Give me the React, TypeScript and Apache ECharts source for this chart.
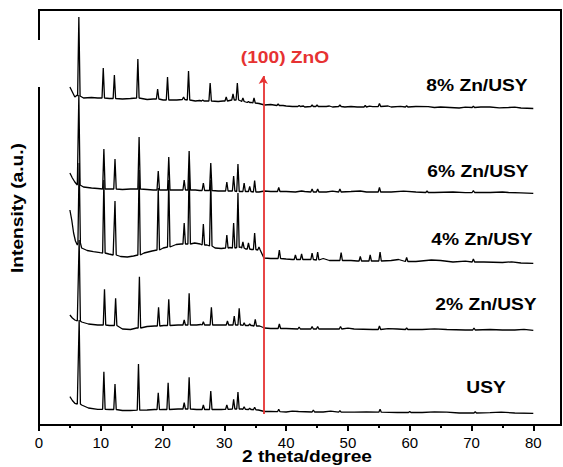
import React, { useEffect, useRef } from "react";
import * as echarts from "echarts";

// x axis tick labels (2 theta, degree)
const xTicks = [0, 10, 20, 30, 40, 50, 60, 70, 80];
const traceNames = ["8% Zn/USY", "6% Zn/USY", "4% Zn/USY", "2% Zn/USY", "USY"];

// Each trace: baseline points [2theta, intensity] and peaks [2theta, top, foot]
const base8 = [[5.0,338],[5.4,333],[5.8,328],[6.2,330],[7.2,327],[8.5,327.5],[9.5,327],[11.4,326.5],[13.5,326],[14.8,326.5],[17.5,325.5],[18.5,326],[20.1,325],[22.3,325],[25.3,324],[26.0,324.5],[29.0,323.5],[29.8,324],[32.7,324],[34.4,322.5],[35.6,321.5],[36.5,320],[37.5,320.5],[39.5,319.5],[40.0,319],[41.0,318.5],[42.8,319],[43.0,318],[46.5,318.5],[47.0,319],[47.5,318],[49.5,318],[50.5,318.5],[51.5,318],[53.5,318.8],[54.0,318.3],[56.5,319],[57.0,318],[58.5,318.7],[61.0,318.5],[63.0,318.3],[64.0,317.5],[65.0,318],[66.5,317.5],[68.0,317],[69.0,317.8],[71.5,318],[73.0,318],[74.5,317.2],[76.0,317.5],[77.0,317.8],[78.0,317],[80.0,316.5]];
const peaks8 = [[6.45,408,329],[10.4,357,327],[12.2,350,326.5],[16.0,366,327],[19.2,336,326],[20.8,348,325],[23.4,328,325.5],[24.2,354,325],[26.5,325,324],[27.7,342,324],[30.3,328,324],[31.4,331,325],[32.1,342,325],[33.0,327,323.5],[33.9,323.5,322.5],[34.8,327,322],[38.7,321,319.5],[42.1,319.5,318.5],[44.2,320,318.5],[45.0,320,318.5],[48.7,320,318.5],[52.8,319.5,318],[55.1,321.5,318.5],[59.5,319.2,318],[70.3,318.8,317.5]];

const base6 = [[5.0,252],[5.4,247],[5.8,243],[6.2,240],[7.2,238],[8.5,237],[9.5,236.5],[11.4,236],[13.5,235.5],[14.8,236],[17.5,235.5],[18.5,235],[20.1,235],[22.3,235],[25.3,235],[26.0,234.5],[29.0,234],[29.8,234],[32.7,233.5],[34.4,233.5],[35.6,233],[36.5,234],[37.5,233.5],[40.0,233.5],[41.5,233],[42.5,234],[43.0,233.5],[46.5,233],[47.5,233.8],[50.5,233.5],[52.0,234],[53.0,233],[57.0,233],[59.0,233.8],[61.0,233],[64.0,232.5],[67.0,233],[69.0,232.4],[73.0,232.5],[75.0,233],[76.0,232.5],[78.0,232.2],[80.0,231.7]];
const peaks6 = [[6.45,330,240],[10.5,276,236],[12.3,266,236],[16.2,288,236],[19.3,254,235],[21.0,268,235],[23.5,245,235],[24.3,274,235],[26.6,242,234.5],[27.8,262,234.5],[30.4,243,234],[31.5,249,234],[32.2,261,233.5],[33.2,242,233.5],[34.1,238.5,233.5],[34.9,244.5,233],[38.8,237.5,233.5],[44.2,236,233],[45.1,236,233],[48.7,236,233],[55.1,237.5,233],[62.8,234,232.5],[70.3,234.3,232.5]];

const base4 = [[5.0,215],[5.3,205],[5.6,192],[5.9,184],[6.2,180],[6.9,177],[7.8,174.5],[8.8,173.3],[9.9,172.3],[11.3,171],[12.0,170],[13.2,168.5],[14.3,168],[15.3,169],[17.0,172],[18.3,174],[20.1,177],[22.2,180.5],[23.0,181],[25.2,182],[26.1,181],[27.2,180],[28.5,177],[29.5,176.5],[30.9,177.5],[32.6,178],[33.45,176],[34.4,175.5],[35.9,175],[36.4,167],[37.5,166.5],[40.0,166],[41.0,165.5],[43.5,165.5],[46.0,166.5],[47.0,164.5],[50.5,164.5],[51.5,164],[57.0,164.5],[58.2,165.5],[61.0,163.5],[63.5,165],[65.0,164.5],[67.0,163],[69.0,163.8],[72.0,163],[75.0,162.5],[76.5,163.2],[78.0,162],[80.0,161.7]];
const peaks4 = [[6.5,262,182],[10.5,245,172],[12.3,224,170],[16.2,255,170],[19.3,237,175],[21.0,245,178],[23.5,202,181],[24.3,258,181],[26.6,201,180],[27.8,245,179],[30.4,190,177],[31.5,202,177],[32.2,232,177.5],[33.0,183,177],[33.9,182,176],[34.9,192,175.5],[35.6,178,175],[38.9,175,166.5],[41.5,170,165.5],[42.5,171,165.5],[44.2,172,165.5],[45.1,173,165],[48.9,172.5,164.5],[52.0,168.5,164],[53.6,170,164],[55.2,173,164],[59.5,167.5,163.5],[70.3,166,163]];

const base2 = [[5.0,110],[5.4,107],[5.8,105],[6.2,104],[6.9,103],[8.0,101],[9.5,100],[11.4,99.5],[13.5,96],[14.8,95.5],[15.8,97],[17.5,98.5],[18.7,99],[20.2,99.5],[22.5,100],[25.5,100],[26.2,100.5],[29.5,100],[30.1,100],[32.8,100],[34.5,99.5],[35.7,99],[36.5,97],[37.5,96.5],[40.0,96.5],[43.0,96],[47.0,96],[50.0,96.8],[51.0,96],[54.0,95.5],[56.5,96.3],[58.0,96],[62.0,95.5],[64.0,96.2],[66.0,95.5],[69.0,95],[73.0,95.5],[75.0,95],[77.0,95],[78.5,95.6],[80.0,94.7]];
const peaks2 = [[6.5,185,104],[10.6,135.7,100],[12.4,126.7,99.5],[16.25,148.3,97],[19.35,117.7,99],[21.0,125.7,99.5],[23.5,105,100],[24.3,131.7,100],[26.6,103.3,100],[27.9,117.7,100],[30.5,104,100],[31.6,109,100],[32.4,116.7,100],[33.2,102.3,99.5],[34.1,101,99.5],[35.0,105.7,99],[38.9,101,96.5],[42.1,98,96],[44.2,98.5,96],[45.1,98.5,96],[48.8,98.5,96],[55.1,99,95.5],[59.5,97,95.5],[70.4,97,95]];

const baseU = [[5.0,28.3],[5.4,24.5],[5.8,21.7],[6.2,21],[6.9,20],[8.0,17],[9.5,15.7],[11.4,15.5],[13.5,14.5],[14.8,14.5],[17.5,15],[18.7,15.5],[20.1,15.5],[22.5,16],[25.5,15.5],[26.2,15.5],[29.5,15.5],[30.0,15.7],[32.8,16],[34.5,15.5],[35.5,15],[36.5,13.5],[37.5,13.5],[40.0,13],[41.0,13.8],[42.0,13.5],[46.0,13],[47.2,13.8],[51.0,12.8],[53.0,13.2],[58.0,12.5],[62.0,12.5],[64.0,13.2],[66.0,12.8],[68.0,12],[73.0,12.3],[74.8,12.8],[77.0,12],[80.0,11.7]];
const peaksU = [[6.5,105,21],[10.5,53.3,15.7],[12.3,41,15.5],[16.1,61,14.8],[19.3,32.3,15.3],[20.9,42.3,15.5],[23.5,22.3,16],[24.3,47.7,16],[26.6,20,15.5],[27.8,34,15.5],[30.4,20,15.7],[31.5,25.7,16],[32.2,33,16],[33.2,18.3,15.7],[34.1,16.7,15.5],[34.9,17.7,15.2],[38.8,15.7,13.3],[44.4,15,13],[48.7,14.3,12.8],[55.2,15.7,12.8],[60.0,13.5,12.5],[70.6,13.3,12]];

// ZnO (100) reference line
const znoPos = 36.3;
const znoRange = [11, 349];
const znoLabel = "(100) ZnO";

const PEAK_HALF_WIDTH = 0.2;

function buildTrace(base: number[][], peaks: number[][]) {
  const pts: number[][] = base.map((p) => [p[0], p[1]]);
  for (const [pos, top, foot] of peaks) {
    pts.push([pos - PEAK_HALF_WIDTH, foot], [pos, top], [pos + PEAK_HALF_WIDTH, foot]);
  }
  pts.sort((a, b) => a[0] - b[0]);
  return pts;
}

const traces = [
  buildTrace(base8, peaks8),
  buildTrace(base6, peaks6),
  buildTrace(base4, peaks4),
  buildTrace(base2, peaks2),
  buildTrace(baseU, peaksU),
];

const labelPos = [
  [477, 86],
  [478, 172],
  [482, 240],
  [486, 305],
  [486, 388],
];

const BOLD = 'bold 16px "Liberation Sans", Arial, sans-serif';
const RED = "#e63232";

export default function App() {
  const ref = useRef<HTMLDivElement>(null);
  useEffect(() => {
    if (!ref.current) return;
    const chart = echarts.init(ref.current, null, { renderer: "svg" });
    const series: any[] = traces.map((data, i) => ({
      type: "line",
      name: traceNames[i],
      data,
      showSymbol: false,
      symbol: "none",
      lineStyle: { color: "#000", width: 1.3 },
      z: 3,
    }));
    series.push({
      type: "line",
      data: [],
      markLine: {
        silent: true,
        symbol: ["none", "arrow"],
        symbolSize: [7, 8],
        label: { show: false },
        lineStyle: { color: RED, width: 1.8, type: "solid" },
        data: [[{ coord: [znoPos, znoRange[0]] }, { coord: [znoPos, znoRange[1]] }]],
      },
      z: 4,
    });
    chart.setOption({
      animation: false,
      grid: { left: 39, right: 29.7, top: 10, bottom: 42 },
      xAxis: {
        type: "value",
        min: 0,
        max: 80,
        interval: 10,
        axisLine: { show: false },
        axisTick: { show: true, length: 6, lineStyle: { color: "#000", width: 2 } },
        minorTick: { show: true, splitNumber: 2, length: 3, lineStyle: { color: "#000", width: 2 } },
        splitLine: { show: false },
        axisLabel: {
          margin: 10,
          color: "#000",
          fontSize: 15,
          fontFamily: '"Liberation Sans", Arial, sans-serif',
          formatter: (v: number) => (xTicks.includes(v) ? String(v) : ""),
        },
      },
      yAxis: { type: "value", min: 0, max: 415, show: false },
      series,
      graphic: [
        {
          type: "polyline",
          shape: { points: [[39, 40], [39, 10], [561, 10], [561, 425], [39, 425], [39, 87]] },
          style: { stroke: "#000", lineWidth: 2, fill: null },
          z: 10,
        },
        ...traceNames.map((t, i) => ({
          type: "text",
          x: labelPos[i][0],
          y: labelPos[i][1],
          scaleX: 1.2,
          style: { text: t, font: BOLD, fill: "#000", align: "center", verticalAlign: "middle" },
          z: 10,
        })),
        {
          type: "text",
          x: 285,
          y: 58,
          scaleX: 1.2,
          style: { text: znoLabel, font: BOLD, fill: RED, align: "center", verticalAlign: "middle" },
          z: 10,
        },
        {
          type: "text",
          x: 307,
          y: 457,
          scaleX: 1.2,
          style: { text: "2 theta/degree", font: BOLD, fill: "#000", align: "center", verticalAlign: "middle" },
          z: 10,
        },
        {
          type: "text",
          x: 18,
          y: 208,
          rotation: Math.PI / 2,
          scaleX: 1.2,
          style: { text: "Intensity (a.u.)", font: BOLD, fill: "#000", align: "center", verticalAlign: "middle" },
          z: 10,
        },
      ],
    });
    return () => chart.dispose();
  }, []);
  return (
    <div
      ref={ref}
      style={{ position: "fixed", left: 0, top: 0, width: 563, height: 467, background: "#fff" }}
    />
  );
}
